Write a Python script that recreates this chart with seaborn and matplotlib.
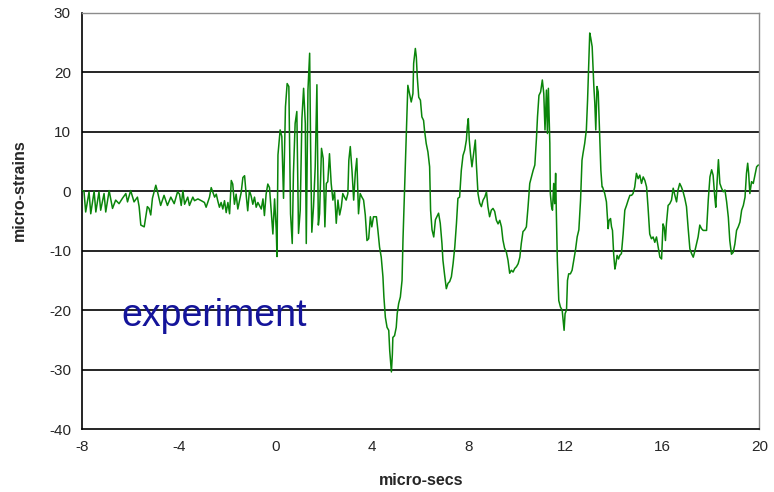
import matplotlib
matplotlib.use("Agg")
import matplotlib.pyplot as plt
import seaborn as sns
import pandas as pd

# Strain gauge record: time (micro-seconds) and strain (micro-strains)
time_us = [
    -7.98, -7.92, -7.85, -7.71, -7.64, -7.50, -7.43, -7.30, -7.23, -7.09,
    -7.02, -6.88, -6.74, -6.61, -6.47, -6.33, -6.19, -6.12, -5.99, -5.85,
    -5.71, -5.64, -5.57, -5.43, -5.30, -5.23, -5.16, -5.09, -4.95, -4.88,
    -4.75, -4.61, -4.47, -4.33, -4.19, -4.05,
    -3.97, -3.90, -3.83, -3.76, -3.63, -3.56, -3.42, -3.35, -3.21, -3.07,
    -2.94, -2.87, -2.73, -2.66, -2.59, -2.52, -2.45, -2.39, -2.32, -2.25,
    -2.18, -2.11, -2.04, -1.97, -1.90, -1.83, -1.77, -1.70, -1.63, -1.56,
    -1.42, -1.35, -1.28, -1.21, -1.15, -1.08, -1.01, -0.94, -0.87, -0.80,
    -0.73, -0.59, -0.52, -0.46, -0.39, -0.32, -0.25, -0.18, -0.11, -0.04,
    0.03, 0.06,
    0.10, 0.19, 0.26, 0.33, 0.41, 0.48, 0.55, 0.62, 0.69, 0.74,
    0.81, 0.88, 0.95, 1.02, 1.09, 1.16, 1.23, 1.27, 1.34, 1.41,
    1.45, 1.50, 1.57, 1.64, 1.71, 1.77, 1.82, 1.90, 1.97, 2.04,
    2.10, 2.16, 2.23, 2.30, 2.37, 2.44, 2.51, 2.58, 2.65, 2.72,
    2.78, 2.85, 2.92, 2.99, 3.03, 3.09, 3.16, 3.23, 3.30, 3.36,
    3.43, 3.50, 3.57, 3.64, 3.71,
    3.78, 3.85, 3.92, 3.98, 4.05, 4.17, 4.23, 4.30, 4.37, 4.44,
    4.48, 4.54, 4.61, 4.68, 4.72, 4.76, 4.79, 4.83, 4.85, 4.92,
    4.99, 5.03, 5.09, 5.16, 5.23, 5.27, 5.34, 5.41, 5.47,
    5.54, 5.61, 5.68, 5.71, 5.78, 5.82, 5.86, 5.92, 5.99, 6.05,
    6.12, 6.16, 6.23, 6.30, 6.37, 6.41, 6.47, 6.54, 6.61, 6.67,
    6.74, 6.81, 6.88, 6.92, 6.99, 7.06, 7.13, 7.20, 7.27, 7.34,
    7.41, 7.48, 7.54, 7.61, 7.68, 7.75, 7.82, 7.89, 7.93, 7.97,
    8.01, 8.06, 8.12, 8.19, 8.26, 8.30, 8.37, 8.44, 8.51, 8.58,
    8.65, 8.72, 8.78, 8.85, 8.92, 8.99, 9.06, 9.13, 9.20, 9.27,
    9.34, 9.40, 9.47, 9.54, 9.61, 9.68, 9.75, 9.82, 9.89, 9.96,
    10.03, 10.10, 10.16, 10.23, 10.30, 10.37, 10.44, 10.51, 10.58, 10.65,
    10.72, 10.79, 10.83, 10.89, 10.96, 11.03, 11.09, 11.14, 11.20, 11.24,
    11.28, 11.34,
    11.36, 11.41, 11.45, 11.50, 11.54, 11.58, 11.61, 11.65, 11.71, 11.78,
    11.85, 11.89, 11.93, 11.97, 12.03, 12.07, 12.12, 12.19, 12.26, 12.33,
    12.40, 12.47, 12.54, 12.61, 12.67, 12.71, 12.78, 12.85, 12.90, 12.94,
    12.99, 13.03, 13.09, 13.16, 13.20, 13.24, 13.29, 13.34, 13.41, 13.45,
    13.50,
    13.52, 13.61, 13.68, 13.75, 13.79, 13.85, 13.89, 13.93, 13.98, 14.03,
    14.07, 14.12, 14.18, 14.23, 14.30, 14.37, 14.44, 14.51, 14.58, 14.65,
    14.72, 14.78, 14.85, 14.92, 14.99, 15.06, 15.13, 15.20, 15.27, 15.34,
    15.40, 15.47, 15.54, 15.61, 15.68, 15.75, 15.82, 15.89, 15.96, 16.02,
    16.07, 16.12, 16.16, 16.23, 16.30, 16.37, 16.44, 16.51, 16.58, 16.64,
    16.71, 16.78, 16.85, 16.92, 16.99, 17.06, 17.13, 17.20, 17.27, 17.34,
    17.41, 17.47, 17.54, 17.61, 17.68, 17.82, 17.89, 17.96, 18.03, 18.09,
    18.16, 18.20, 18.26, 18.31, 18.37, 18.44, 18.51, 18.58, 18.65, 18.72,
    18.78, 18.85, 18.92, 18.99, 19.06, 19.13, 19.20, 19.27, 19.34, 19.41,
    19.47, 19.52, 19.56, 19.61, 19.68, 19.75, 19.82, 19.89, 19.96,
]

strain = [
    0.1, 0.0, -3.5, -0.1, -3.8, 0.0, -3.5, -0.1, -3.2, -0.4,
    -3.5, 0.1, -2.9, -1.5, -2.1, -1.2, -0.4, -1.8, 0.1, -1.8,
    -1.0, -2.6, -5.7, -6.0, -2.6, -2.9, -4.0, -1.2, 1.0, -0.1,
    -2.4, -0.7, -2.4, -1.0, -2.1, -0.1,
    -0.5, -2.4, 0.1, -2.2, -1.0, -2.4, -1.0, -1.6, -1.3, -1.6,
    -1.9, -2.7, -1.0, 0.6, -0.2, -1.0, -0.5, -1.6, -2.7, -1.9,
    -3.0, -1.6, -3.6, -1.9, -3.8, 1.8, 1.2, -2.2, -0.5, -3.0,
    -0.2, 2.3, 2.6, -0.8, -3.3, 0.1, -0.8, -2.2, -1.0, -2.7,
    -1.9, -3.0, -1.3, -4.1, -0.5, 1.2, 0.6, -3.3, -7.2, -1.3,
    -6.6, -11.0,
    6.1, 10.3, 9.2, -1.2, 14.2, 18.1, 17.6, -3.8, -8.8, 3.0,
    11.4, 13.4, -7.1, -3.2, 12.2, 17.3, 11.4, -8.8, 17.0, 23.2,
    7.5, -6.9, -2.6, 4.1, 17.9, -5.7, -3.8, 7.2, 5.5, -6.0,
    1.3, 1.6, 6.3, 1.3, -1.5, -0.1, -5.4, -1.5, -4.0, -2.6,
    -0.4, -1.0, -1.5, -0.4, 5.2, 7.5, 3.5, -1.5, 3.2, 5.5,
    -3.8, -0.4, -1.0, -1.5, -4.0,
    -8.3, -8.0, -4.3, -6.0, -4.3, -4.3, -6.5, -9.4, -11.1, -14.4,
    -17.8, -21.2, -22.9, -23.4, -26.8, -29.0, -30.4, -27.4, -24.6, -24.3,
    -22.9, -20.6, -18.9, -17.8, -15.0, -8.0, 1.0, 10.0, 17.8,
    16.4, 15.0, 16.4, 21.5, 24.0, 22.6, 19.2, 15.8, 15.3, 12.5,
    11.9, 10.2, 8.0, 6.6, 4.1, -3.2, -6.5, -7.7, -4.8, -4.3,
    -3.7, -5.4, -8.8, -11.6, -14.1, -16.4, -15.5, -15.2, -14.4, -12.2,
    -9.4, -5.4, -1.2, -1.0, 3.5, 6.0, 6.9, 8.6, 10.9, 12.2,
    8.6, 6.3, 4.1, 6.3, 8.6, 4.7, -0.4, -2.0, -2.6, -1.5,
    -1.0, -0.1, -2.6, -4.3, -3.2, -2.9, -3.4, -4.9, -5.5, -4.9,
    -6.0, -8.2, -9.6, -10.2, -11.6, -13.8, -13.3, -13.6, -13.0, -12.7,
    -12.2, -11.1, -8.8, -6.8, -6.5, -6.0, -2.6, 1.3, 2.4, 3.5,
    4.4, 9.1, 12.5, 16.1, 16.7, 18.7, 16.4, 10.3, 17.0, 9.7,
    17.3, 8.0,
    -0.4, -2.6, -3.2, 1.3, -2.1, 3.0, -3.8, -11.6, -18.4, -19.5,
    -20.0, -21.7, -23.4, -20.6, -20.0, -15.0, -13.9, -13.9, -13.3, -11.6,
    -9.9, -7.7, -6.5, -1.5, 5.2, 6.3, 8.0, 10.3, 15.3, 20.4,
    26.6, 25.8, 24.3, 17.6, 14.8, 10.3, 17.6, 16.7, 8.6, 3.5,
    0.7,
    0.7, -0.4, -1.8, -6.3, -4.9, -4.6, -6.0, -6.6, -10.6, -13.1,
    -12.3, -10.8, -11.4, -10.8, -10.5, -7.2, -3.2, -2.4, -1.5, -0.7,
    -0.7, -0.4, 0.7, 3.0, 2.1, 2.7, 1.3, 2.4, 1.8, 0.7,
    -2.7, -7.2, -8.0, -7.7, -8.6, -7.7, -9.4, -11.1, -11.4, -5.5,
    -6.1, -8.3, -5.5, -2.4, -2.1, -1.5, 0.5, -0.7, -1.8, 0.2,
    1.3, 0.7, -0.1, -1.2, -2.6, -6.3, -9.7, -10.5, -11.1, -10.0,
    -8.8, -7.7, -5.7, -6.3, -6.6, -6.6, -1.5, 2.4, 3.6, 2.7,
    -1.0, -2.7, 1.9, 5.3, 1.3, 0.5, -0.1, 0.2, -1.8, -4.4,
    -8.3, -10.6, -10.3, -8.9, -6.6, -6.0, -5.2, -3.2, -2.4, -1.0,
    3.0, 4.7, 3.0, -0.4, 1.6, 1.3, 2.7, 4.1, 4.4,
]

x_ticks = [-8, -4, 0, 4, 8, 12, 16, 20]
y_ticks = [-40, -30, -20, -10, 0, 10, 20, 30]
grid_levels = [-30, -20, -10, 0, 10, 20]

sns.set_style("white")
plt.rcParams["font.family"] = ["Liberation Sans", "DejaVu Sans"]
plt.rcParams["axes.unicode_minus"] = False

df = pd.DataFrame({"micro-secs": time_us, "micro-strains": strain})

fig = plt.figure(figsize=(7.74, 4.92), dpi=100)
ax = fig.add_axes([0.106, 0.128, 0.875, 0.846])

# horizontal gridlines in black
for lvl in grid_levels:
    ax.axhline(lvl, color="black", lw=1.2, zorder=1)

sns.lineplot(data=df, x="micro-secs", y="micro-strains", ax=ax,
             estimator=None, sort=False, color="#0a850a", lw=1.1, zorder=3)

ax.set_xlim(-8, 20)
ax.set_ylim(-40, 30)
ax.set_xticks(x_ticks)
ax.set_yticks(y_ticks)
ax.set_xticklabels([str(v) for v in x_ticks])
ax.set_yticklabels([str(v) for v in y_ticks])
ax.tick_params(axis="both", direction="out", length=4, width=1,
               color="black", labelsize=11, pad=4)

for side in ("left", "bottom"):
    ax.spines[side].set_color("black")
    ax.spines[side].set_linewidth(1.2)
for side in ("top", "right"):
    ax.spines[side].set_color("#8c8c8c")
    ax.spines[side].set_linewidth(1.0)
    ax.spines[side].set_visible(True)

ax.set_xlabel("micro-secs", fontsize=11.5, fontweight="bold")
ax.set_ylabel("micro-strains", fontsize=11.5, fontweight="bold")
ax.xaxis.set_label_coords(0.5, -0.105)
ax.yaxis.set_label_coords(-0.082, 0.575)

ax.text(-6.37, -22.6, "experiment", color="#14149a", fontsize=27,
        ha="left", va="baseline", zorder=4)

fig.savefig("out.png", dpi=100)
